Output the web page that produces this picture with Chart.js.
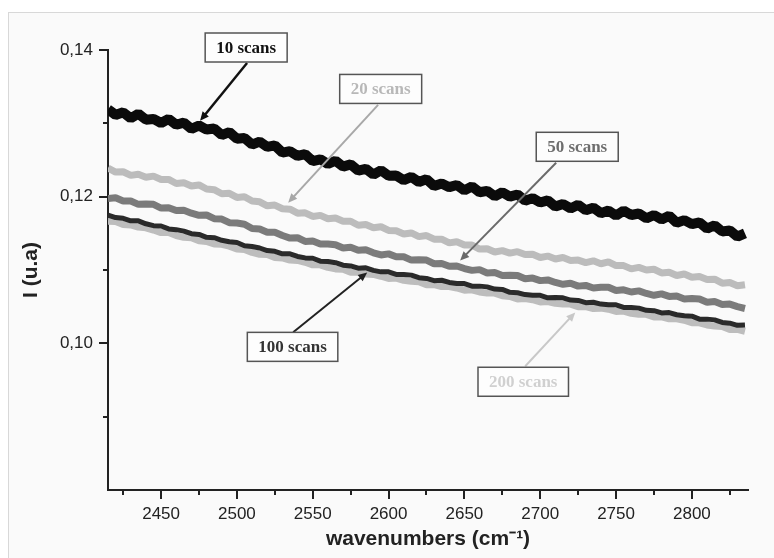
<!DOCTYPE html>
<html>
<head>
<meta charset="utf-8">
<script src="https://cdn.jsdelivr.net/npm/chart.js@4.4.1/dist/chart.umd.min.js"></script>
<style>
  html, body { margin: 0; padding: 0; background: #ffffff; }
  #panel { position: absolute; left: 8px; top: 12px; width: 766px; height: 546px;
           background: #fafafa; border-left: 1px solid #d8d8d8; border-top: 1px solid #d8d8d8; box-sizing: border-box; }
  #c { position: absolute; left: 0; top: 0; }
</style>
</head>
<body>
<div id="panel"></div>
<canvas id="c" width="774" height="558"></canvas>
<script>
// ---- data (every 5 cm-1) ----
const wavenumbers = [2415,2420,2425,2430,2435,2440,2445,2450,2455,2460,2465,2470,2475,2480,2485,2490,2495,2500,2505,2510,2515,2520,2525,2530,2535,2540,2545,2550,2555,2560,2565,2570,2575,2580,2585,2590,2595,2600,2605,2610,2615,2620,2625,2630,2635,2640,2645,2650,2655,2660,2665,2670,2675,2680,2685,2690,2695,2700,2705,2710,2715,2720,2725,2730,2735,2740,2745,2750,2755,2760,2765,2770,2775,2780,2785,2790,2795,2800,2805,2810,2815,2820,2825,2830,2835];

const scans10 = [0.1319,0.13115,0.1315,0.1307,0.1313,0.1305,0.1306,0.13005,0.1306,0.1298,0.1301,0.12925,0.1297,0.12915,0.1293,0.1284,0.1288,0.1279,0.1280,0.1271,0.1275,0.1268,0.1270,0.1260,0.1262,0.12555,0.1258,0.12485,0.1251,0.12445,0.1249,0.1241,0.1244,0.12355,0.1238,0.1230,0.1236,0.12285,0.1229,0.12225,0.1227,0.1220,0.1224,0.12145,0.1218,0.1213,0.1216,0.12085,0.1214,0.1206,0.1208,0.12005,0.1206,0.1200,0.1203,0.11945,0.1198,0.1192,0.1195,0.11865,0.1190,0.1184,0.1189,0.11815,0.1185,0.11775,0.1181,0.1174,0.1181,0.1175,0.1177,0.11705,0.1175,0.1169,0.1174,0.11645,0.1168,0.11625,0.1165,0.11565,0.1161,0.11525,0.1154,0.11455,0.1150];

const scans20 = [0.1239,0.12335,0.1234,0.1229,0.12305,0.12265,0.1228,0.12235,0.12235,0.1218,0.1219,0.12145,0.1216,0.12105,0.12095,0.1204,0.12045,0.1199,0.1200,0.1194,0.1193,0.11875,0.11885,0.11835,0.1183,0.11775,0.1178,0.1173,0.11745,0.1170,0.1171,0.11665,0.11665,0.1161,0.1162,0.11575,0.1159,0.1154,0.11535,0.1149,0.11505,0.11455,0.1147,0.1142,0.1142,0.1137,0.11385,0.1134,0.1134,0.11285,0.1129,0.11245,0.11265,0.1123,0.1125,0.1121,0.11215,0.1117,0.1119,0.1115,0.1117,0.1113,0.11135,0.1110,0.11125,0.11085,0.1111,0.1106,0.1106,0.11015,0.11035,0.1100,0.1101,0.1096,0.1097,0.10925,0.10945,0.1090,0.1091,0.1087,0.10875,0.1082,0.1083,0.10785,0.1080];

const scans50 = [0.11975,0.11985,0.1194,0.1194,0.11895,0.1190,0.11895,0.11845,0.1185,0.1181,0.11815,0.11775,0.11745,0.1175,0.1170,0.11695,0.11645,0.1164,0.11625,0.11565,0.1156,0.11515,0.11515,0.1147,0.11435,0.1144,0.1139,0.11395,0.11355,0.11355,0.11345,0.1130,0.1131,0.1127,0.11275,0.11235,0.11205,0.1122,0.1118,0.1118,0.11135,0.1114,0.11135,0.11085,0.1109,0.1105,0.11055,0.1102,0.10995,0.11005,0.1096,0.10965,0.10925,0.1093,0.10925,0.1088,0.1089,0.10855,0.10865,0.1083,0.10805,0.1082,0.1078,0.1079,0.10755,0.10765,0.10765,0.1072,0.1073,0.1070,0.10715,0.1068,0.10655,0.10675,0.1064,0.10645,0.10605,0.1061,0.10605,0.1056,0.1057,0.1053,0.10535,0.1050,0.10475];

const scans100 = [0.1175,0.11715,0.11705,0.1167,0.1167,0.1163,0.11605,0.1160,0.1156,0.1155,0.1153,0.11495,0.11485,0.11445,0.1144,0.11405,0.11385,0.11375,0.1133,0.1132,0.1130,0.11265,0.11255,0.1122,0.1122,0.11185,0.11165,0.1116,0.1112,0.11115,0.1110,0.11065,0.11055,0.11025,0.1103,0.10995,0.10975,0.10975,0.1094,0.1094,0.1093,0.10895,0.10885,0.10855,0.1086,0.1083,0.10815,0.10815,0.1078,0.1078,0.1077,0.1074,0.10735,0.10695,0.1069,0.10665,0.10655,0.10655,0.1062,0.10625,0.1062,0.1059,0.10585,0.10555,0.1056,0.10535,0.10525,0.10525,0.1049,0.1049,0.1048,0.1045,0.10445,0.10415,0.1042,0.1039,0.10375,0.1037,0.1033,0.1033,0.1032,0.10285,0.10275,0.10245,0.1025];

const scans200 = [0.11665,0.1166,0.1162,0.11615,0.11585,0.11575,0.11545,0.1151,0.1151,0.1147,0.11445,0.1144,0.1140,0.1139,0.11355,0.1135,0.11325,0.11285,0.1128,0.1124,0.11215,0.1121,0.1117,0.11165,0.11135,0.1113,0.11105,0.1107,0.1107,0.11035,0.11015,0.1101,0.1097,0.1097,0.10945,0.1094,0.10915,0.10885,0.1089,0.1086,0.10845,0.1084,0.1080,0.1080,0.10775,0.10775,0.10755,0.10725,0.1073,0.1070,0.10685,0.10685,0.1065,0.1064,0.10605,0.1061,0.10595,0.10565,0.1057,0.10545,0.10535,0.10535,0.1050,0.1050,0.10475,0.1048,0.10465,0.10435,0.1044,0.1041,0.10395,0.10395,0.1036,0.1036,0.10335,0.10335,0.10315,0.1028,0.1028,0.1025,0.10235,0.1023,0.1019,0.1019,0.10165];

const seriesLabels = ['10 scans','20 scans','50 scans','100 scans','200 scans'];
const yTickLabels = ['0,10','0,12','0,14'];
const xTickLabels = [2450,2500,2550,2600,2650,2700,2750,2800];

// ---- annotation callouts (box centre and arrow in data coordinates) ----
const callouts = [
  { text: '10 scans',  box: [2506.1, 0.14034], from: [2506.7, 0.13823], to: [2475.7, 0.13034], textColor: '#111111', lineColor: '#111111', lw: 2.5 },
  { text: '20 scans',  box: [2594.8, 0.13469], from: [2593.1, 0.13252], to: [2533.8, 0.11918], textColor: '#b8b8b8', lineColor: '#a8a8a8', lw: 2 },
  { text: '50 scans',  box: [2724.4, 0.12680], from: [2710.5, 0.12463], to: [2647.2, 0.11129], textColor: '#6e6e6e', lineColor: '#6a6a6a', lw: 2 },
  { text: '100 scans', box: [2536.7, 0.09952], from: [2537.1, 0.10150], to: [2585.9, 0.10966], textColor: '#333333', lineColor: '#222222', lw: 2 },
  { text: '200 scans', box: [2688.8, 0.09476], from: [2690.1, 0.09687], to: [2723.1, 0.10422], textColor: '#d0d0d0', lineColor: '#c8c8c8', lw: 2 }
];

const toPts = arr => wavenumbers.map((w, i) => ({ x: w, y: arr[i] }));

const tickMarks = {
  id: 'tickMarks',
  afterDraw(chart) {
    const ctx = chart.ctx, xs = chart.scales.x, ys = chart.scales.y, a = chart.chartArea;
    ctx.save();
    ctx.strokeStyle = '#222';
    ctx.lineWidth = 2;
    xs.ticks.forEach(t => {
      const v = Math.round(t.value);
      if (v % 25 !== 0) return;
      const px = Math.round(xs.getPixelForValue(v));
      const len = v % 50 === 0 ? 9 : 5;
      ctx.beginPath(); ctx.moveTo(px, a.bottom); ctx.lineTo(px, a.bottom + len); ctx.stroke();
    });
    ys.ticks.forEach(t => {
      const r = Math.round(t.value * 100);
      if (r <= 8) return;
      const py = Math.round(ys.getPixelForValue(r / 100));
      const len = r % 2 === 0 ? 9 : 5;
      ctx.beginPath(); ctx.moveTo(a.left, py); ctx.lineTo(a.left - len, py); ctx.stroke();
    });
    ctx.restore();
  }
};

const calloutPlugin = {
  id: 'callouts',
  afterDatasetsDraw(chart) {
    const ctx = chart.ctx, xs = chart.scales.x, ys = chart.scales.y;
    ctx.save();
    ctx.font = 'bold 17px "Liberation Serif", "Times New Roman", serif';
    callouts.forEach(c => {
      const x1 = xs.getPixelForValue(c.from[0]), y1 = ys.getPixelForValue(c.from[1]);
      const x2 = xs.getPixelForValue(c.to[0]), y2 = ys.getPixelForValue(c.to[1]);
      const ang = Math.atan2(y2 - y1, x2 - x1);
      const hl = 9, hw = 4;
      ctx.strokeStyle = c.lineColor; ctx.fillStyle = c.lineColor; ctx.lineWidth = c.lw;
      ctx.beginPath(); ctx.moveTo(x1, y1);
      ctx.lineTo(x2 - Math.cos(ang) * hl * 0.8, y2 - Math.sin(ang) * hl * 0.8); ctx.stroke();
      ctx.beginPath();
      ctx.moveTo(x2, y2);
      ctx.lineTo(x2 - Math.cos(ang) * hl + Math.sin(ang) * hw, y2 - Math.sin(ang) * hl - Math.cos(ang) * hw);
      ctx.lineTo(x2 - Math.cos(ang) * hl - Math.sin(ang) * hw, y2 - Math.sin(ang) * hl + Math.cos(ang) * hw);
      ctx.closePath(); ctx.fill();
      // box
      const bx = xs.getPixelForValue(c.box[0]), by = ys.getPixelForValue(c.box[1]);
      const tw = ctx.measureText(c.text).width;
      const w = tw + 22, h = 29;
      ctx.fillStyle = '#fdfdfd';
      ctx.fillRect(bx - w / 2, by - h / 2, w, h);
      ctx.strokeStyle = '#555555'; ctx.lineWidth = 1.5;
      ctx.strokeRect(bx - w / 2, by - h / 2, w, h);
      ctx.fillStyle = c.textColor;
      ctx.textAlign = 'center'; ctx.textBaseline = 'middle';
      ctx.fillText(c.text, bx, by + 1);
    });
    ctx.restore();
  }
};

const colors = ['#0b0b0b', '#bcbcbc', '#7b7b7b', '#2a2a2a', '#bdbdbd'];
const widths = [10, 7, 7, 5, 7];
const seriesData = [scans10, scans20, scans50, scans100, scans200];

new Chart(document.getElementById('c'), {
  type: 'line',
  data: {
    datasets: seriesData.map((arr, i) => ({
      label: seriesLabels[i],
      data: toPts(arr),
      borderColor: colors[i],
      backgroundColor: colors[i],
      borderWidth: widths[i],
      pointRadius: 0,
      tension: 0,
      fill: false,
      borderJoinStyle: 'bevel'
    }))
  },
  options: {
    responsive: false,
    animation: false,
    layout: { padding: { left: 0, top: 50, right: 26, bottom: 0 } },
    plugins: { legend: { display: false }, tooltip: { enabled: false } },
    scales: {
      x: {
        type: 'linear',
        min: 2415, max: 2837,
        afterFit: s => { s.height = 68; },
        grid: { display: false },
        border: { display: true, color: '#222', width: 2 },
        ticks: {
          stepSize: 25, includeBounds: false, autoSkip: false, maxRotation: 0, minRotation: 0,
          padding: 6, color: '#222',
          font: { family: '"Liberation Sans", Arial, sans-serif', size: 17 },
          callback: v => xTickLabels.includes(Math.round(v)) ? String(Math.round(v)) : ''
        },
        title: {
          display: true, text: 'wavenumbers (cm⁻¹)', color: '#222',
          font: { family: '"Liberation Sans", Arial, sans-serif', size: 21, weight: 'bold' },
          padding: { top: 0, bottom: 6 }
        }
      },
      y: {
        type: 'linear',
        min: 0.08, max: 0.14,
        afterFit: s => { s.width = 108; },
        grid: { display: false },
        border: { display: true, color: '#222', width: 2 },
        ticks: {
          stepSize: 0.01, autoSkip: false, padding: 7, color: '#222',
          font: { family: '"Liberation Sans", Arial, sans-serif', size: 17 },
          callback: v => {
            const r = Math.round(v * 100);
            const lbl = '0,' + r;
            return yTickLabels.includes(lbl) ? lbl : '';
          }
        },
        title: {
          display: true, text: 'I (u.a)', color: '#222',
          font: { family: '"Liberation Sans", Arial, sans-serif', size: 21, weight: 'bold' },
          padding: { top: 19, bottom: 0 }
        }
      }
    }
  },
  plugins: [tickMarks, calloutPlugin]
});
</script>
</body>
</html>
